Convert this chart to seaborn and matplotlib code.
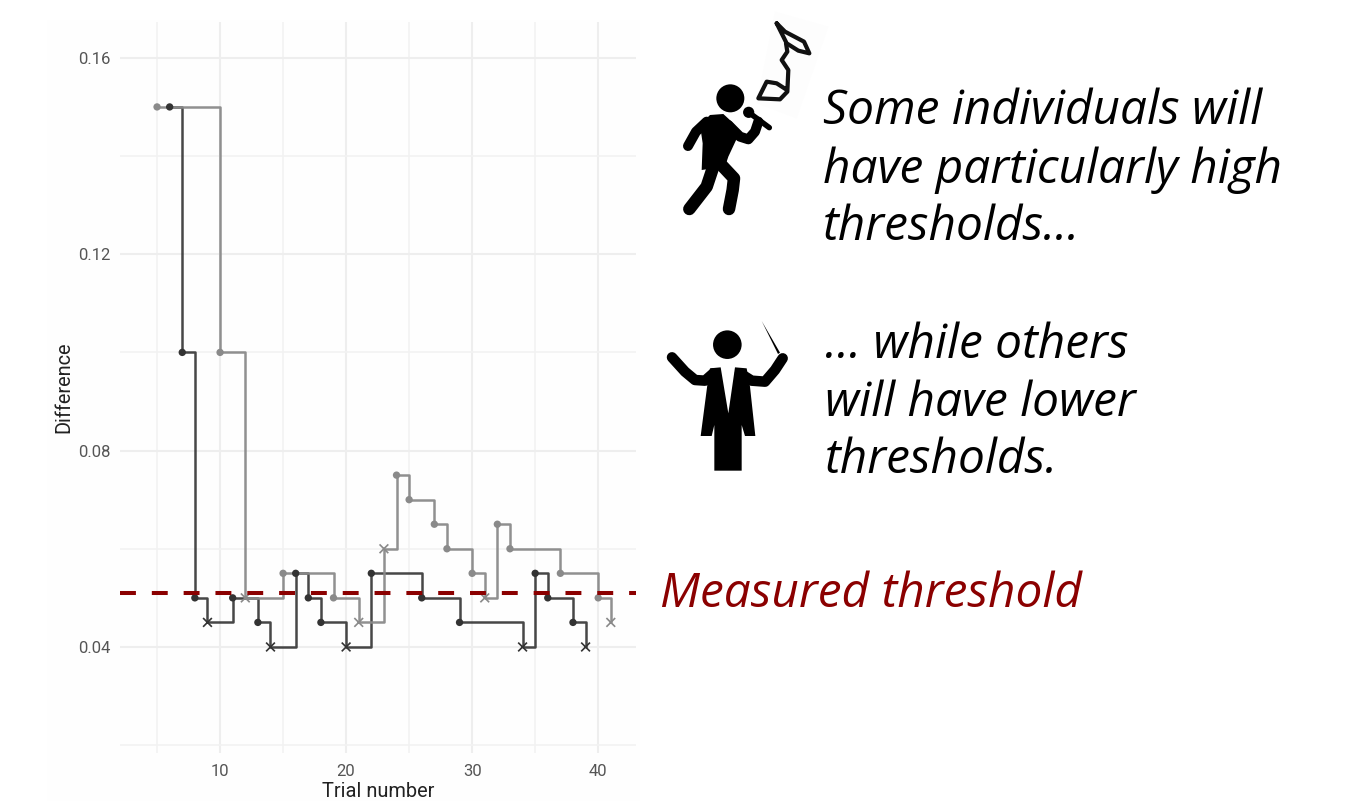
import matplotlib
matplotlib.use("Agg")
import matplotlib.pyplot as plt
from matplotlib.patches import Circle, Polygon, Rectangle
import pandas as pd
import seaborn as sns

# ---- data ----
dark_trials = [6, 7, 8, 9, 11, 13, 14, 16, 17, 18, 20, 22, 26, 29, 34, 35, 36, 38, 39]
dark_values = [.15, .10, .05, .045, .05, .045, .04, .055, .05, .045, .04, .055, .05, .045, .04, .055, .05, .045, .04]
dark_kinds = ["o", "o", "o", "x", "o", "o", "x", "o", "o", "o", "x", "o", "o", "o", "x", "o", "o", "o", "x"]
grey_trials = [5, 10, 12, 15, 19, 21, 23, 24, 25, 27, 28, 30, 31, 32, 33, 37, 40, 41]
grey_values = [.15, .10, .05, .055, .05, .045, .06, .075, .07, .065, .06, .055, .05, .065, .06, .055, .05, .045]
grey_kinds = ["o", "o", "x", "o", "o", "x", "x", "o", "o", "o", "o", "o", "x", "o", "o", "o", "o", "x"]
threshold = 0.051
x_major = [10, 20, 30, 40]
x_minor = [5, 15, 25, 35]
y_major = [0.04, 0.08, 0.12, 0.16]
y_minor = [0.02, 0.06, 0.10, 0.14]
x_label = "Trial number"
y_label = "Difference"
high_lines = ["Some individuals will", "have particularly high", "thresholds..."]
low_lines = ["... while others", "will have lower", "thresholds."]
threshold_label = "Measured threshold"

DARK, GREY = "#333333", "#8a8a8a"
W, H = 1355, 801

df = pd.concat([
    pd.DataFrame({"trial": dark_trials, "diff": dark_values, "kind": dark_kinds, "who": "dark"}),
    pd.DataFrame({"trial": grey_trials, "diff": grey_values, "kind": grey_kinds, "who": "grey"}),
], ignore_index=True)

sns.set_theme(style="white")
plt.rcParams["font.family"] = ["Roboto", "DejaVu Sans"]
fig = plt.figure(figsize=(W / 100, H / 100), dpi=100, facecolor="white")
fig.add_artist(Rectangle((47 / W, 0), (640 - 47) / W, 1 - 20 / H, transform=fig.transFigure,
                         color="#fefefe", lw=0, zorder=-5))
ax = fig.add_axes([120 / W, 1 - 753 / H, (636 - 120) / W, (753 - 22) / H])
ax.patch.set_alpha(0)

pal = {"dark": DARK, "grey": GREY}
sns.lineplot(data=df[df.who == "dark"], x="trial", y="diff", color=DARK, alpha=0.9, drawstyle="steps-post",
             estimator=None, lw=1.8, ax=ax, legend=False, zorder=3)
sns.lineplot(data=df[df.who == "grey"], x="trial", y="diff", color=GREY, alpha=0.95, drawstyle="steps-post",
             estimator=None, lw=1.8, ax=ax, legend=False, zorder=4)
sns.scatterplot(data=df[df.kind == "o"], x="trial", y="diff", hue="who", palette=pal, marker="o",
                s=28, linewidth=0, ax=ax, legend=False, zorder=5)
sns.scatterplot(data=df[df.kind == "x"], x="trial", y="diff", hue="who", palette=pal, marker="x",
                s=40, linewidth=1.2, ax=ax, legend=False, zorder=5)
ax.axhline(threshold, color="#8b0000", lw=2.9, dashes=(3.95, 3.95), zorder=6)

ax.set_xlim(2.06, 43.0)
ax.set_ylim(0.0184, 0.1673)
ax.set_xticks(x_major)
ax.set_xticks(x_minor, minor=True)
ax.set_yticks(y_major)
ax.set_yticks(y_minor, minor=True)
ax.set_yticklabels([f"{v:.2f}" for v in y_major])
ax.grid(True, which="major", color="#eeeeee", lw=1.5)
ax.grid(True, which="minor", color="#f2f2f2", lw=1.2)
ax.set_axisbelow(True)
for s in ax.spines.values():
    s.set_visible(False)
ax.tick_params(axis="both", which="both", length=0, labelsize=12, labelcolor="#555555")
ax.tick_params(axis="x", pad=8)
ax.tick_params(axis="y", pad=7)
ax.set_xlabel(x_label, fontsize=14.4, color="#222222", labelpad=2)
ax.set_ylabel(y_label, fontsize=14.4, color="#222222", labelpad=3.5)

# ---- overlay in pixel space: icons and captions ----
ov = fig.add_axes([0, 0, 1, 1], zorder=10)
ov.set_xlim(0, W)
ov.set_ylim(H, 0)
ov.axis("off")
ov.patch.set_alpha(0)

LW_PX = 100 / 72  # px per pt at this dpi


def crop(points, x0, y0):
    return [(x0 + px / 3, y0 + py / 3) for px, py in points]


def limb(points, x0, y0, width_px, color="black"):
    xs, ys = zip(*crop(points, x0, y0))
    ov.plot(xs, ys, color=color, lw=width_px / LW_PX, solid_capstyle="round", solid_joinstyle="round")


# singer
sx, sy = 660, 10
ov.add_patch(Polygon(crop([(345, 5), (505, 50), (410, 325), (290, 280)], sx, sy), color="#fdfdfd", lw=0))
ov.add_patch(Circle((sx + 211 / 3, sy + 265 / 3), 14, color="black", lw=0))
ov.add_patch(Polygon(crop([(120, 345), (150, 315), (190, 312), (215, 335), (240, 365), (205, 440),
                           (195, 470), (125, 480), (128, 400)], sx, sy), color="black", lw=0))
limb([(140, 335), (108, 365), (84, 408)], sx, sy, 10)
limb([(160, 470), (140, 530), (88, 597)], sx, sy, 12.5)
limb([(175, 455), (222, 505), (218, 540), (207, 597)], sx, sy, 12.5)
limb([(205, 345), (240, 380), (265, 388), (285, 365), (295, 335)], sx, sy, 10)
ov.add_patch(Circle((sx + 266 / 3, sy + 307 / 3), 5.6, color="black", lw=0))
limb([(270, 310), (328, 353)], sx, sy, 5.5)
limb([(350, 40), (375, 65), (432, 95), (448, 130), (415, 122), (380, 100), (350, 40)], sx, sy, 4.2, "#111111")
limb([(378, 100), (382, 125), (365, 150), (385, 180), (382, 245), (360, 268), (295, 265), (320, 215),
      (350, 220), (378, 238)], sx, sy, 4.2, "#111111")

# conductor
cx, cy = 650, 310
ov.add_patch(Circle((cx + 232 / 3, cy + 104 / 3), 14.3, color="black", lw=0))
ov.add_patch(Polygon(crop([(212, 172), (235, 310), (255, 172), (290, 175), (300, 230), (316, 378), (285, 378),
                           (275, 345), (275, 482), (193, 482), (193, 345), (185, 378), (152, 378),
                           (172, 225), (180, 175)], cx, cy), color="black", lw=0))
limb([(66, 142), (105, 185), (135, 210), (165, 212), (190, 190)], cx, cy, 10.5)
limb([(270, 190), (305, 212), (345, 215), (375, 180), (398, 145)], cx, cy, 10.5)
ov.add_patch(Polygon(crop([(335, 33), (390, 128), (384, 132)], cx, cy), color="black", lw=0))

caption = dict(family=["Open Sans", "DejaVu Sans"], style="italic", fontsize=34.4, color="black",
               ha="left", va="baseline")
for txt, y in zip(high_lines, [124, 183, 240]):
    ov.text(823, y, txt, **caption)
for txt, y in zip(low_lines, [358, 416, 473]):
    ov.text(825, y, txt, **caption)
ov.text(660, 607, threshold_label, **{**caption, "color": "#8b0000"})

fig.savefig("out.png", dpi=100, facecolor="white")
